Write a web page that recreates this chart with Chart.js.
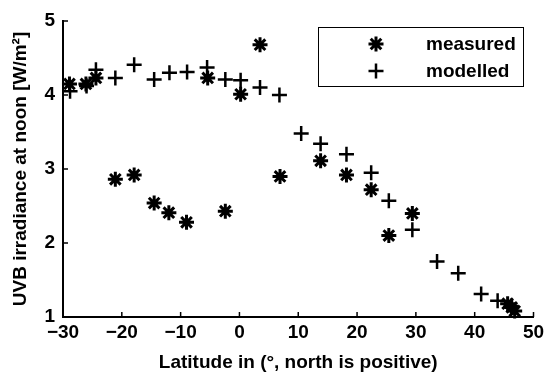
<!DOCTYPE html>
<html>
<head>
<meta charset="utf-8">
<script src="https://cdn.jsdelivr.net/npm/chart.js@4/dist/chart.umd.min.js"></script>
<style>
  html, body { margin: 0; padding: 0; background: #fff; }
  #wrap { width: 544px; height: 374px; }
</style>
</head>
<body>
<div id="wrap"><canvas id="uvb-chart" width="544" height="374"></canvas></div>
<script>
// latitude (deg) and UVB irradiance at noon (W/m2)
const latMeasured = [-28.9, -26.1, -24.4, -21.1, -17.9, -14.5, -12.0, -9.0, -5.4, -2.4, 0.2, 3.5, 6.9, 13.8, 18.2, 22.4, 25.4, 29.4, 45.6, 46.3, 46.8];
const uvbMeasured = [4.15, 4.15, 4.23, 2.86, 2.92, 2.54, 2.41, 2.28, 4.23, 2.43, 4.01, 4.68, 2.90, 3.11, 2.92, 2.72, 2.10, 2.40, 1.18, 1.13, 1.08];

const latModelled = [-28.8, -26.0, -24.4, -21.1, -17.9, -14.5, -11.9, -8.9, -5.5, -2.4, 0.2, 3.5, 6.8, 10.5, 13.8, 18.2, 22.4, 25.4, 29.4, 33.6, 37.2, 41.1, 43.9, 46.2];
const uvbModelled = [4.05, 4.12, 4.34, 4.23, 4.41, 4.21, 4.30, 4.31, 4.37, 4.21, 4.20, 4.10, 4.00, 3.48, 3.34, 3.20, 2.95, 2.57, 2.18, 1.75, 1.59, 1.31, 1.22, 1.15];

const xTicks = [-30, -20, -10, 0, 10, 20, 30, 40, 50];
const yTicks = [1, 2, 3, 4, 5];
const seriesNames = ['measured', 'modelled'];

const FONT = '"Liberation Sans", Arial, Helvetica, sans-serif';

function toPoints(xs, ys) {
    return xs.map((x, i) => ({ x: x, y: ys[i] }));
}

// matlab style: ticks point into the plot
const inwardTicks = {
    id: 'inwardTicks',
    afterDraw(chart) {
        const ctx = chart.ctx;
        const area = chart.chartArea;
        const xs = chart.scales.x;
        const ys = chart.scales.y;
        ctx.save();
        ctx.strokeStyle = '#000';
        ctx.lineWidth = 1.5;
        ctx.beginPath();
        xTicks.forEach(v => {
            const px = xs.getPixelForValue(v);
            ctx.moveTo(px, area.bottom);
            ctx.lineTo(px, area.bottom - 5);
        });
        yTicks.forEach(v => {
            const py = ys.getPixelForValue(v);
            ctx.moveTo(area.left, py);
            ctx.lineTo(area.left + 5, py);
        });
        ctx.stroke();
        ctx.restore();
    }
};

// boxed legend in the upper right corner
const boxLegend = {
    id: 'boxLegend',
    afterDraw(chart) {
        const ctx = chart.ctx;
        ctx.save();
        ctx.strokeStyle = '#000';
        ctx.lineWidth = 1;
        ctx.fillStyle = '#fff';
        ctx.fillRect(318, 27, 205, 59);
        ctx.strokeRect(318.5, 27.5, 205, 59);
        const rows = [44, 71];
        chart.data.datasets.forEach((ds, i) => {
            ctx.strokeStyle = '#000';
            ctx.lineWidth = ds.borderWidth;
            Chart.helpers.drawPoint(ctx, {
                pointStyle: ds.pointStyle,
                radius: ds.pointRadius,
                borderWidth: ds.borderWidth,
                rotation: 0
            }, 376, rows[i]);
            ctx.fillStyle = '#000';
            ctx.font = 'bold 19px ' + FONT;
            ctx.textBaseline = 'middle';
            ctx.textAlign = 'left';
            ctx.fillText(ds.label, 426, rows[i] + 1);
        });
        ctx.restore();
    }
};

const ctx = document.getElementById('uvb-chart');

new Chart(ctx, {
    type: 'scatter',
    data: {
        datasets: [
            {
                label: seriesNames[0],
                data: toPoints(latMeasured, uvbMeasured),
                pointStyle: 'star',
                pointRadius: 7.5,
                borderWidth: 3,
                borderColor: '#000',
                backgroundColor: '#000',
                clip: false
            },
            {
                label: seriesNames[1],
                data: toPoints(latModelled, uvbModelled),
                pointStyle: 'cross',
                pointRadius: 7.5,
                borderWidth: 2.5,
                borderColor: '#000',
                backgroundColor: '#000',
                clip: false
            }
        ]
    },
    options: {
        responsive: false,
        animation: false,
        layout: { padding: { top: 21, right: 10, left: 0, bottom: 0 } },
        plugins: {
            legend: { display: false },
            tooltip: { enabled: false }
        },
        scales: {
            x: {
                type: 'linear',
                min: -30,
                max: 50,
                afterFit: scale => {
                    scale.height = 57;
                    scale.paddingLeft = 0;
                    scale.paddingRight = 0;
                },
                afterBuildTicks: scale => { scale.ticks = xTicks.map(v => ({ value: v })); },
                ticks: {
                    color: '#000',
                    padding: 4,
                    font: { family: FONT, size: 19, weight: 'bold' },
                    callback: v => String(v).replace('-', '\u2212')
                },
                grid: { display: false, drawTicks: false },
                border: { display: true, color: '#000', width: 2 },
                title: {
                    display: true,
                    text: 'Latitude in (°, north is positive)',
                    color: '#000',
                    font: { family: FONT, size: 19, weight: 'bold' },
                    padding: { top: 0, bottom: 0 }
                }
            },
            y: {
                type: 'linear',
                min: 1,
                max: 5,
                afterFit: scale => { scale.width = 63; },
                afterBuildTicks: scale => { scale.ticks = yTicks.map(v => ({ value: v })); },
                ticks: {
                    color: '#000',
                    padding: 8,
                    font: { family: FONT, size: 19, weight: 'bold' }
                },
                grid: { display: false, drawTicks: false },
                border: { display: true, color: '#000', width: 2 },
                title: {
                    display: true,
                    text: 'UVB irradiance at noon [W/m²]',
                    color: '#000',
                    font: { family: FONT, size: 19, weight: 'bold' },
                    padding: { top: 9, bottom: 0 }
                }
            }
        }
    },
    plugins: [inwardTicks, boxLegend]
});
</script>
</body>
</html>
